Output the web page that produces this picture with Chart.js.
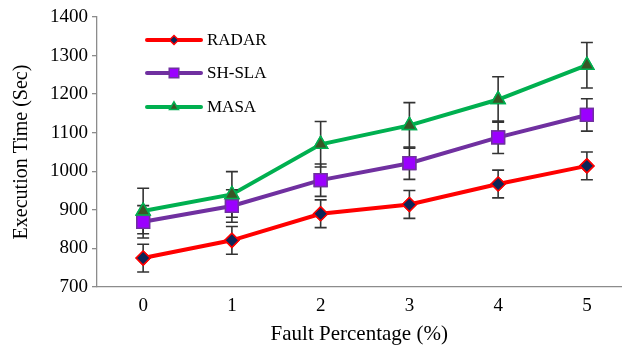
<!DOCTYPE html>
<html>
<head>
<meta charset="utf-8">
<script src="https://cdn.jsdelivr.net/npm/chart.js@4.4.0/dist/chart.umd.min.js"></script>
<style>
  html, body { margin: 0; padding: 0; background: #fff; }
  #wrap { width: 632px; height: 351px; position: relative; }
</style>
</head>
<body>
<div id="wrap"><canvas id="chart"></canvas></div>
<script>
// fault percentage on the x axis
const faultPct = [0, 1, 2, 3, 4, 5];

// execution times (sec)
const radar = [775, 821, 890, 914, 967, 1014];
const shSla = [869, 910, 977, 1021, 1088, 1146];
const masa = [897, 940, 1070, 1119, 1186, 1275];

// error bar half-widths (sec)
const radarErr = [36, 36, 36, 36, 36, 36];
const shSlaErr = [42, 42, 42, 42, 42, 42];
const masaErr = [59, 59, 59, 59, 59, 59];

const yTicks = [700, 800, 900, 1000, 1100, 1200, 1300, 1400];

const FONT = '"Liberation Serif", "Times New Roman", serif';

const series = [
    { label: 'RADAR', values: radar, err: radarErr, color: '#ff0000', fill: '#0c2658', style: 'rectRot', radius: 7 },
    { label: 'SH-SLA', values: shSla, err: shSlaErr, color: '#7030a0', fill: '#9b00ff', style: 'rect', radius: 9 },
    { label: 'MASA', values: masa, err: masaErr, color: '#00b050', fill: '#3a5526', style: 'triangle', radius: 8 },
];

const errorBars = {
    id: 'errorBars',
    afterDatasetsDraw(chart) {
        const ctx = chart.ctx;
        const xs = chart.scales.x, ys = chart.scales.y;
        ctx.save();
        ctx.strokeStyle = '#333';
        ctx.lineWidth = 1.6;
        series.forEach((s) => {
            s.values.forEach((v, i) => {
                const px = xs.getPixelForValue(faultPct[i]);
                const top = ys.getPixelForValue(v + s.err[i]);
                const bot = ys.getPixelForValue(v - s.err[i]);
                ctx.beginPath();
                ctx.moveTo(px, top); ctx.lineTo(px, bot);
                ctx.moveTo(px - 6, top); ctx.lineTo(px + 6, top);
                ctx.moveTo(px - 6, bot); ctx.lineTo(px + 6, bot);
                ctx.stroke();
            });
        });
        ctx.restore();
        // markers go back on top of the bars
        chart.data.datasets.forEach((ds, i) => {
            chart.getDatasetMeta(i).data.forEach(p => p.draw(ctx, chart.chartArea));
        });
    }
};

const sideLegend = {
    id: 'sideLegend',
    afterDraw(chart) {
        const ctx = chart.ctx;
        const rows = [40, 73, 107];
        ctx.save();
        series.forEach((s, i) => {
            const y = rows[i];
            ctx.strokeStyle = s.color;
            ctx.lineWidth = 4;
            ctx.lineCap = 'round';
            ctx.beginPath();
            ctx.moveTo(147, y); ctx.lineTo(201, y);
            ctx.stroke();
            ctx.fillStyle = s.fill;
            ctx.strokeStyle = s.color;
            ctx.lineWidth = 1.5;
            const r = s.style === 'rect' ? s.radius * 0.75 : s.radius * 0.65;
            Chart.helpers.drawPoint(ctx, { pointStyle: s.style, radius: r, rotation: 0, borderWidth: 1.5 }, 174, y);
            ctx.fillStyle = '#000';
            ctx.font = '17px ' + FONT;
            ctx.textBaseline = 'middle';
            ctx.fillText(s.label, 207, y + 1);
        });
        ctx.restore();
    }
};

new Chart(document.getElementById('chart'), {
    type: 'line',
    data: {
        datasets: series.map(s => ({
            label: s.label,
            data: s.values.map((v, i) => ({ x: faultPct[i], y: v })),
            borderColor: s.color,
            borderWidth: 4,
            backgroundColor: s.fill,
            pointStyle: s.style,
            pointRadius: s.radius,
            pointBackgroundColor: s.fill,
            pointBorderColor: s.color,
            pointBorderWidth: 1.5,
            tension: 0,
        }))
    },
    options: {
        responsive: true,
        maintainAspectRatio: false,
        animation: false,
        layout: { padding: { top: 17, right: 0, left: 0, bottom: 0 } },
        plugins: {
            legend: { display: false },
            tooltip: { enabled: false },
        },
        scales: {
            x: {
                type: 'linear',
                min: -0.52,
                max: 5.39,
                afterBuildTicks: (scale) => { scale.ticks = faultPct.map(v => ({ value: v })); },
                afterFit: (scale) => { scale.height = 64; },
                grid: { display: false, drawTicks: false },
                border: { display: true, color: '#8c8c8c', width: 1.3 },
                ticks: { color: '#000', font: { family: FONT, size: 19 }, padding: 8, maxRotation: 0, callback: v => String(v) },
                title: { display: true, text: 'Fault Percentage (%)', color: '#000', font: { family: FONT, size: 21 }, padding: { top: 0 } },
            },
            y: {
                min: 700,
                max: 1400,
                afterBuildTicks: (scale) => { scale.ticks = yTicks.map(v => ({ value: v })); },
                afterFit: (scale) => { scale.width = 97; },
                grid: { drawOnChartArea: false, drawTicks: true, tickLength: 5, color: '#8c8c8c', lineWidth: 1.3 },
                border: { display: true, color: '#8c8c8c', width: 1.3 },
                ticks: { color: '#000', font: { family: FONT, size: 19 }, padding: 4, callback: v => String(v) },
                title: { display: true, text: 'Execution Time (Sec)', color: '#000', font: { family: FONT, size: 20 }, padding: { top: 10, bottom: 0 } },
            }
        }
    },
    plugins: [errorBars, sideLegend]
});
</script>
</body>
</html>
